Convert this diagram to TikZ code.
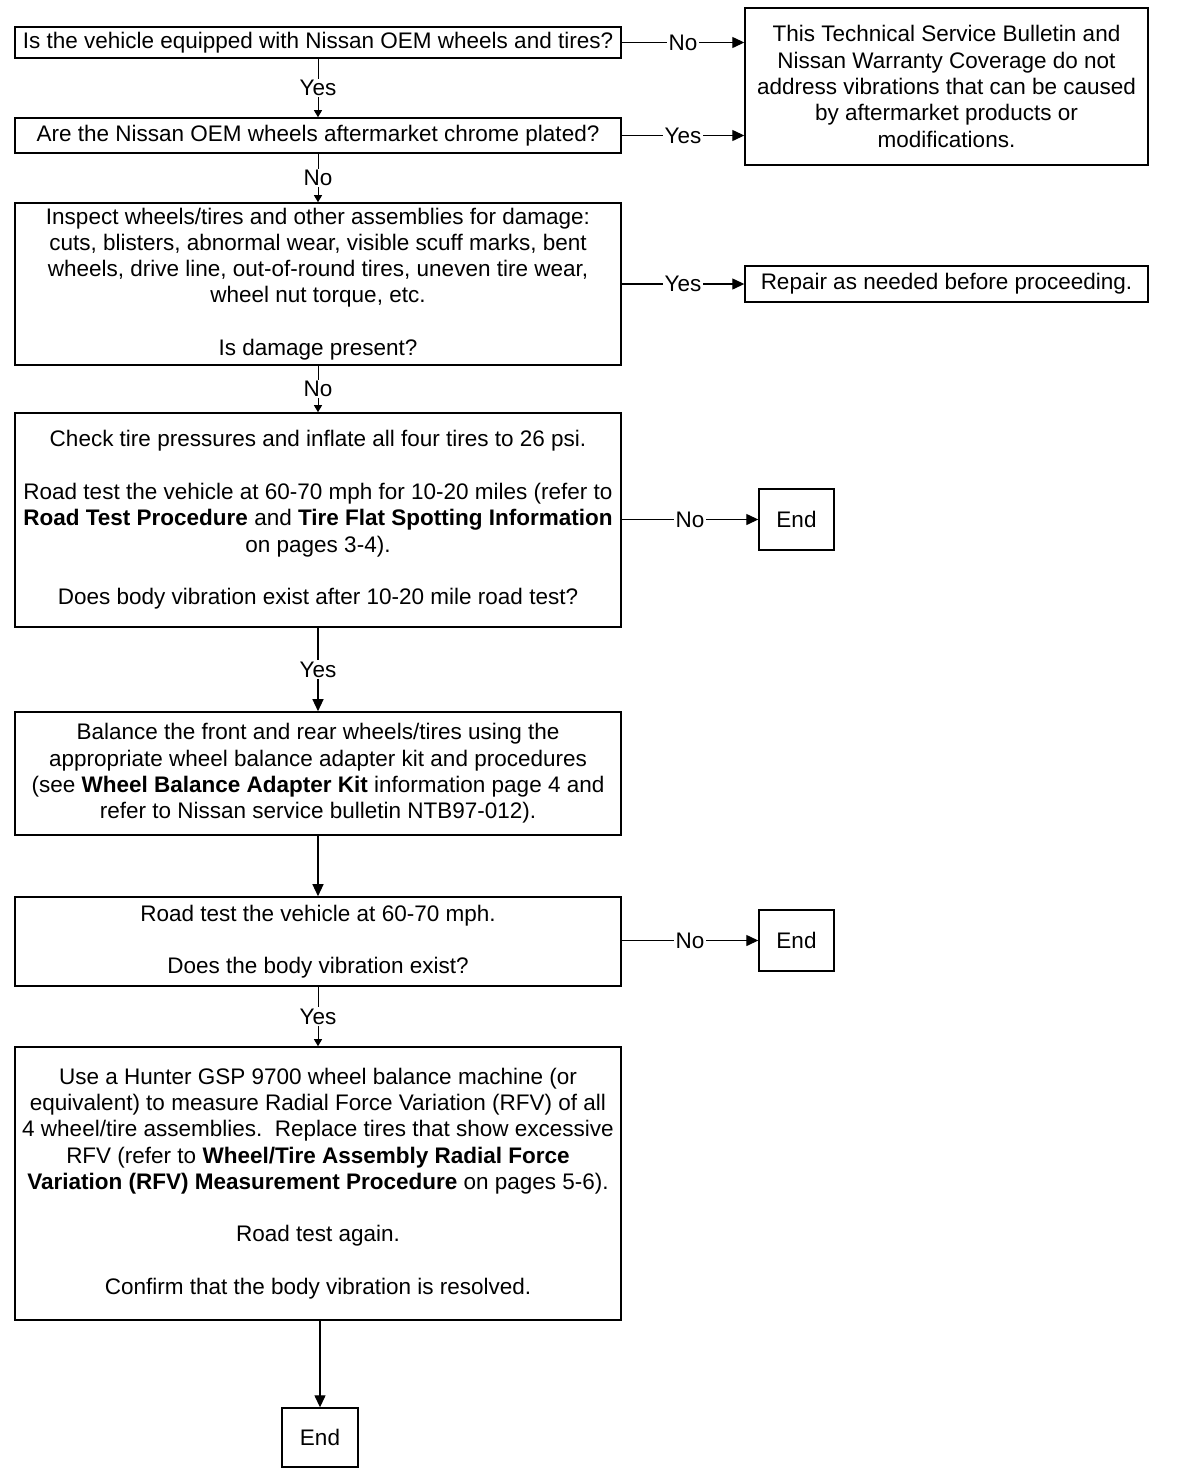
\documentclass[tikz,border=0pt]{standalone}
\usepackage{fontspec}
\setmainfont{Liberation Sans}
\usetikzlibrary{arrows.meta}
\newcommand{\fs}{\fontsize{22.5}{26.3}\selectfont}
\begin{document}
\begin{tikzpicture}[x=1pt,y=-1pt,
  box/.style={draw, line width=1.6pt, align=center, inner sep=0pt, font=\fs, fill=white, minimum width=606pt},
  endbox/.style={draw, line width=1.4pt, align=center, inner sep=0pt, font=\fs, fill=white},
  conn/.style={line width=1.3pt, -{Triangle[width=11pt,length=12pt]}},
  sconn/.style={line width=1.0pt, -{Triangle[width=8pt,length=7pt]}},
  lbl/.style={fill=white, inner sep=1.5pt, font=\fs}]
\path[fill=white, use as bounding box] (0,0) rectangle (1184,1484);

\node[box, minimum height=31pt] (q1) at (318,42.5) {Is the vehicle equipped with Nissan OEM wheels and tires?};
\node[box, minimum height=35pt] (q2) at (318,135.5) {Are the Nissan OEM wheels aftermarket chrome plated?};
\node[box, minimum height=162pt] (q3) at (318,284) {Inspect wheels/tires and other assemblies for damage:\\cuts, blisters, abnormal wear, visible scuff marks, bent\\wheels, drive line, out-of-round tires, uneven tire wear,\\wheel nut torque, etc.\\[26.3pt]Is damage present?};
\node[box, minimum height=214pt] (q4) at (318,520) {Check tire pressures and inflate all four tires to 26 psi.\\[26.3pt]Road test the vehicle at 60-70 mph for 10-20 miles (refer to\\\textbf{Road Test Procedure} and \textbf{Tire Flat Spotting Information}\\on pages 3-4).\\[26.3pt]Does body vibration exist after 10-20 mile road test?};
\node[box, minimum height=123pt] (s5) at (318,773.5) {Balance the front and rear wheels/tires using the\\appropriate wheel balance adapter kit and procedures\\(see \textbf{Wheel Balance Adapter Kit} information page 4 and\\refer to Nissan service bulletin NTB97-012).};
\node[box, minimum height=89pt] (q6) at (318,941.5) {Road test the vehicle at 60-70 mph.\\[26.3pt]Does the body vibration exist?};
\node[box, minimum height=273pt] (s7) at (318,1183.5) {Use a Hunter GSP 9700 wheel balance machine (or\\equivalent) to measure Radial Force Variation (RFV) of all\\4 wheel/tire assemblies.\ \ Replace tires that show excessive\\RFV (refer to \textbf{Wheel/Tire Assembly Radial Force}\\\textbf{Variation (RFV) Measurement Procedure} on pages 5-6).\\[26.3pt]Road test again.\\[26.3pt]Confirm that the body vibration is resolved.};

\node[endbox, minimum width=403pt, minimum height=157pt] (tsb) at (946.5,86.5) {This Technical Service Bulletin and\\Nissan Warranty Coverage do not\\address vibrations that can be caused\\by aftermarket products or\\modifications.};
\node[endbox, minimum width=403pt, minimum height=36pt] (rep) at (946.5,284) {Repair as needed before proceeding.};
\node[endbox, minimum width=75pt, minimum height=61pt] (e1) at (796.5,519.5) {End};
\node[endbox, minimum width=75pt, minimum height=61pt] (e2) at (796.5,940.5) {End};
\node[endbox, minimum width=76pt, minimum height=59pt] (e3) at (320,1437.5) {End};

\draw[conn] (q1.east) -- node[lbl]{No} (tsb.west |- q1.east);
\draw[conn] (q2.east) -- node[lbl]{Yes} (tsb.west |- q2.east);
\draw[conn] (q3.east) -- node[lbl]{Yes} (rep.west);
\draw[conn] (q4.east |- e1.west) -- node[lbl]{No} (e1.west);
\draw[conn] (q6.east |- e2.west) -- node[lbl]{No} (e2.west);

\draw[sconn] (q1.south) -- node[lbl]{Yes} (q2.north);
\draw[sconn] (q2.south) -- node[lbl]{No} (q3.north);
\draw[sconn] (q3.south) -- node[lbl]{No} (q4.north);
\draw[conn] (q4.south) -- node[lbl]{Yes} (s5.north);
\draw[conn] (s5.south) -- (q6.north);
\draw[sconn] (q6.south) -- node[lbl]{Yes} (s7.north);
\draw[conn] (s7.south -| e3.north) -- (e3.north);
\end{tikzpicture}
\end{document}
